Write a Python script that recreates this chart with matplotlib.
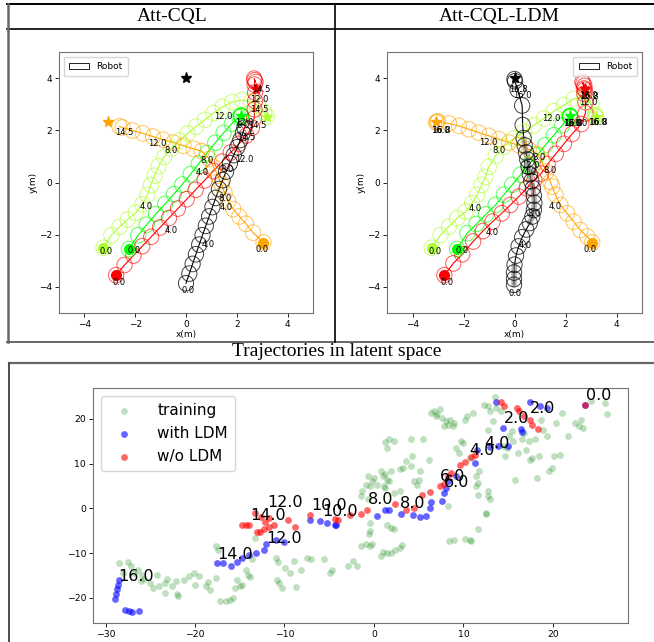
import matplotlib
matplotlib.use("Agg")
import matplotlib.pyplot as plt
import numpy as np
from matplotlib.lines import Line2D
from matplotlib.patches import Circle, Patch

W, H = 654, 642

# ---------------- top panels: robot / human trajectories ----------------
AGENT_COLORS = {"yg": "greenyellow", "green": "lime", "red": "red",
                "orange": "orange", "robot": "black"}
AGENT_ORDER = ["yg", "green", "red", "orange", "robot"]

starts = {"yg": (-3.25, -2.5), "green": (-2.25, -2.55), "red": (-2.75, -3.55),
          "orange": (3.05, -2.3)}
goals = {"yg": (3.2, 2.52), "green": (2.17, 2.55), "red": (2.75, 3.6),
         "orange": (-3.08, 2.31), "robot": (0.0, 4.0)}

# Att-CQL
cql_yg = [(-3.25, -2.5), (-2.94, -2.02), (-2.62, -1.70), (-2.30, -1.42), (-1.98, -1.16),
          (-1.72, -0.84), (-1.52, -0.48), (-1.38, -0.10), (-1.24, 0.26), (-1.08, 0.62),
          (-0.86, 0.98), (-0.58, 1.30), (-0.26, 1.60), (0.06, 1.88), (0.40, 2.14),
          (0.74, 2.40), (1.08, 2.66), (1.44, 2.90), (1.82, 3.08), (2.20, 3.16),
          (2.56, 3.10), (2.86, 2.92), (3.08, 2.70), (3.18, 2.52)]
cql_green = [(-2.25, -2.55), (-1.88, -2.02), (-1.55, -1.62), (-1.18, -1.20), (-0.82, -0.82),
             (-0.48, -0.45), (-0.15, -0.08), (0.18, 0.32), (0.50, 0.72), (0.82, 1.12),
             (1.15, 1.52), (1.48, 1.90), (1.80, 2.25), (2.10, 2.50), (2.17, 2.55),
             (2.18, 2.56), (2.16, 2.54), (2.17, 2.55)]
cql_red = [(-2.75, -3.55), (-2.42, -3.16), (-2.07, -2.80), (-1.72, -2.44), (-1.37, -2.08),
           (-1.02, -1.72), (-0.67, -1.36), (-0.32, -1.00), (0.03, -0.64), (0.38, -0.28),
           (0.73, 0.08), (1.08, 0.44), (1.42, 0.80), (1.76, 1.15), (2.08, 1.48),
           (2.38, 1.80), (2.60, 2.10), (2.68, 2.45), (2.70, 2.80), (2.72, 3.12),
           (2.72, 3.45), (2.70, 3.75), (2.70, 3.92), (2.74, 3.85), (2.68, 3.98)]
cql_orange = [(3.05, -2.3), (2.64, -1.92), (2.36, -1.58), (2.10, -1.30), (1.86, -1.02),
              (1.66, -0.72), (1.52, -0.40), (1.40, -0.08), (1.26, 0.26), (1.10, 0.58),
              (0.92, 0.90), (0.62, 1.20), (0.30, 1.29), (-0.10, 1.41), (-0.50, 1.53),
              (-0.90, 1.64), (-1.30, 1.76), (-1.70, 1.88), (-2.10, 1.99), (-2.50, 2.11),
              (-2.62, 2.15)]
cql_robot = [(0.00, -3.86), (0.13, -3.49), (0.26, -3.12), (0.39, -2.75), (0.52, -2.38),
             (0.65, -2.02), (0.78, -1.66), (0.91, -1.30), (1.04, -0.94), (1.17, -0.59),
             (1.30, -0.25), (1.44, 0.09), (1.58, 0.42), (1.73, 0.74), (1.88, 1.05),
             (2.02, 1.35), (2.14, 1.63), (2.24, 1.90), (2.30, 2.10)]
cql_labels = [("0.0", -3.13, -2.66), ("4.0", -1.56, -0.92), ("8.0", -0.58, 1.21),
              ("12.0", 1.48, 2.54), ("14.5", 2.87, 2.80),
              ("0.0", -2.05, -2.62), ("4.0", 0.63, 0.38), ("8.0", 2.25, 2.19),
              ("12.0", 2.31, 2.30), ("14.5", 2.81, 2.17),
              ("0.0", -2.65, -3.83), ("4.0", -0.58, -1.84), ("8.0", 1.63, 0.51),
              ("12.0", 2.90, 3.19), ("14.5", 2.97, 3.57),
              ("0.0", 2.99, -2.56), ("4.0", 1.58, -0.95), ("8.0", 0.83, 0.85),
              ("12.0", -1.14, 1.49), ("14.5", -2.44, 1.90),
              ("0.0", 0.10, -4.15), ("4.0", 0.87, -2.39), ("8.0", 1.52, -0.60),
              ("12.0", 2.28, 0.87), ("14.5", 2.38, 1.71)]

# Att-CQL-LDM
ldm_yg = [(-3.25, -2.5), (-2.90, -2.01), (-2.57, -1.69), (-2.25, -1.37), (-1.92, -1.11),
          (-1.66, -0.79), (-1.46, -0.47), (-1.29, -0.09), (-1.14, 0.21), (-1.01, 0.60),
          (-0.74, 1.02), (-0.42, 1.37), (-0.03, 1.68), (0.37, 1.94), (0.76, 2.19),
          (1.15, 2.45), (1.54, 2.73), (1.93, 2.96), (2.32, 3.20), (2.72, 3.26),
          (3.02, 2.98), (3.17, 2.60), (3.20, 2.52), (3.15, 2.55)]
ldm_green = [(-2.25, -2.55), (-1.85, -1.94), (-1.49, -1.59), (-1.12, -1.22), (-0.74, -0.86),
             (-0.42, -0.47), (-0.09, -0.09), (0.24, 0.30), (0.56, 0.68), (0.89, 1.04),
             (1.21, 1.43), (1.54, 1.81), (1.87, 2.19), (2.17, 2.51), (2.18, 2.55),
             (2.16, 2.53), (2.19, 2.52), (2.17, 2.55)]
ldm_red = [(-2.75, -3.55), (-2.40, -3.10), (-2.05, -2.75), (-1.62, -2.26), (-1.24, -1.86),
           (-0.86, -1.50), (-0.50, -1.18), (-0.16, -0.86), (0.17, -0.54), (0.48, -0.22),
           (0.78, 0.10), (1.04, 0.34), (1.30, 0.70), (1.62, 1.10), (1.94, 1.48),
           (2.26, 1.86), (2.62, 2.24), (2.78, 2.65), (2.78, 3.08), (2.74, 3.40),
           (2.72, 3.60), (2.70, 3.80), (2.74, 3.70), (2.66, 3.85), (2.76, 3.55)]
ldm_orange = [(3.05, -2.3), (2.85, -2.07), (2.58, -1.82), (2.32, -1.50), (2.06, -1.18),
              (1.80, -0.86), (1.61, -0.47), (1.48, -0.16), (1.41, 0.02), (1.25, 0.41),
              (1.08, 0.79), (0.89, 1.11), (0.56, 1.27), (0.17, 1.43), (-0.22, 1.53),
              (-0.61, 1.66), (-1.01, 1.79), (-1.40, 1.91), (-1.79, 2.04), (-2.18, 2.17),
              (-2.57, 2.26), (-3.03, 2.32), (-3.08, 2.30), (-3.00, 2.34)]
ldm_robot = [(-0.02, -3.92), (-0.02, -3.70), (-0.02, -3.45), (0.00, -3.15), (0.06, -2.80),
             (0.16, -2.45), (0.30, -2.10), (0.46, -1.80), (0.60, -1.55), (0.70, -1.30),
             (0.76, -1.05), (0.78, -0.78), (0.76, -0.50), (0.72, -0.22), (0.66, 0.05),
             (0.60, 0.32), (0.55, 0.60), (0.50, 0.88), (0.45, 1.15), (0.40, 1.42),
             (0.36, 1.70), (0.32, 2.20), (0.30, 2.95), (0.12, 3.55), (0.02, 3.88),
             (0.00, 3.96)]
ldm_robot_slow = [(0, 4), (8, 21)]  # index ranges drawn as grey band
ldm_labels = [("0.0", -3.13, -2.66), ("4.0", -1.53, -0.99), ("8.0", -0.61, 1.21),
              ("12.0", 1.45, 2.47), ("16.0", 3.26, 2.30), ("16.8", 3.28, 2.30),
              ("0.0", -2.05, -2.62), ("4.0", 0.63, 0.38), ("8.0", 2.61, 2.26),
              ("12.0", 2.26, 2.26), ("16.0", 2.28, 2.26), ("16.8", 2.30, 2.26),
              ("0.0", -2.64, -3.83), ("4.0", -0.87, -1.91), ("8.0", 1.41, 0.47),
              ("12.0", 2.91, 3.06), ("16.0", 2.91, 3.32), ("16.8", 2.93, 3.30),
              ("0.0", 2.98, -2.56), ("4.0", 1.58, -0.92), ("8.0", 0.95, 0.94),
              ("12.0", -1.03, 1.53), ("16.0", -2.90, 2.00), ("16.8", -2.88, 2.00),
              ("0.0", 0.01, -4.24), ("4.0", 0.43, -2.42), ("8.0", 0.76, -1.18),
              ("12.0", 0.63, 0.64), ("16.0", 0.30, 3.32), ("16.8", 0.14, 3.56)]

# ---------------- bottom panel: latent space ----------------
train_pts = [
    (-28.5, -12.3), (-27.5, -12.0), (-27.2, -12.9), (-28.1, -14.4), (-26.8, -14.4),
    (-26.4, -13.7), (-25.9, -14.8), (-25.7, -15.7), (-25.0, -16.6), (-24.7, -17.8),
    (-24.2, -14.8), (-24.0, -17.4), (-23.4, -16.6), (-23.1, -15.7), (-22.6, -17.4),
    (-22.1, -16.3), (-21.9, -19.6), (-22.0, -19.2), (-21.2, -15.9), (-20.7, -15.2),
    (-20.1, -14.4), (-20.0, -17.0), (-19.5, -15.2), (-18.8, -17.4), (-18.6, -16.5),
    (-18.3, -18.3), (-17.6, -15.5), (-17.6, -8.5), (-17.4, -9.3), (-17.2, -20.7),
    (-16.5, -20.6), (-16.1, -20.4), (-15.8, -20.0), (-15.5, -17.8), (-15.3, -16.0),
    (-15.0, -17.4), (-14.7, -17.0), (-14.3, -13.7), (-14.1, -14.8), (-13.9, -15.3),
    (-13.6, -11.4), (-13.3, -6.6), (-23.3, -19.0), (-26.0, -16.2),
    (-11.0, -11.1), (-10.8, -15.9), (-10.6, -16.6), (-10.3, -17.8), (-10.7, -11.9),
    (-9.9, -13.3), (-9.4, -14.4), (-8.9, -11.8), (-8.7, -17.5), (-8.2, -13.7),
    (-7.5, -11.1), (-7.0, -11.4), (-5.6, -11.4), (-4.9, -14.4), (-4.7, -13.7),
    (-2.9, -12.9), (-2.3, -11.8), (-1.9, -12.9), (-1.4, -8.5), (-0.9, -7.9),
    (-0.4, -8.5), (-0.2, -7.9), (0.8, -10.7), (1.0, -9.8), (1.5, -9.9),
    (1.9, -9.9), (2.4, -9.2), (2.9, -8.8), (3.1, -8.1),
    (-1.5, 2.7), (-1.3, 3.8), (-0.9, 5.3), (-0.7, 7.2), (-0.4, 5.0), (-0.2, 6.1),
    (0.0, 6.8), (0.3, 5.3), (0.8, 8.3), (1.0, 7.2), (1.1, 5.0), (1.2, 7.6),
    (1.5, 6.4), (1.7, 6.1), (1.9, 8.3), (1.2, 14.8), (1.5, 13.5), (1.7, 15.4),
    (2.2, 15.0), (2.9, 8.7), (3.3, 9.0), (3.6, 10.5), (4.1, 9.4), (4.1, 15.4),
    (4.3, 11.7), (4.5, 6.1), (4.8, 5.3), (5.0, 6.4), (5.2, 8.3), (5.5, 15.4),
    (6.2, 10.9), (6.4, 21.3), (6.7, 21.7), (6.9, 20.6), (7.1, 21.0), (7.4, 22.1),
    (7.6, 20.2), (7.8, 18.4), (8.1, 19.5), (8.3, 18.7), (8.5, 19.8), (8.8, 18.4),
    (9.0, 19.1), (9.2, 13.5), (9.5, 12.4), (9.7, 15.0), (10.0, 14.6), (10.2, 19.8),
    (10.4, 20.6), (10.7, 11.3), (11.1, 21.3), (11.4, 7.2), (11.6, 5.7), (11.8, 8.3),
    (11.6, 3.1), (12.5, -1.0), (12.3, 23.2), (12.8, 22.8), (12.8, 17.6), (13.0, 21.7),
    (13.3, 19.5), (13.5, 24.8), (13.7, 22.4), (14.2, 21.7), (14.4, 13.9), (14.7, 11.7),
    (14.9, 13.5), (15.1, 16.1), (15.4, 17.2), (15.6, 15.0), (15.8, 6.4), (16.1, 12.4),
    (16.6, 15.4), (16.8, 16.9), (17.0, 13.1), (17.3, 15.0), (17.5, 10.9), (17.7, 11.3),
    (18.0, 15.4), (18.2, 6.8), (18.4, 11.7), (18.7, 19.8), (18.9, 17.6), (19.4, 16.1),
    (19.6, 8.3), (19.9, 9.0), (20.1, 11.7), (20.3, 19.1), (20.8, 12.0), (21.0, 21.3),
    (21.7, 16.1), (22.5, 19.1), (22.9, 18.4), (23.2, 19.8), (23.4, 18.0), (24.3, 23.9),
    (25.8, 23.6), (26.0, 21.0),
    (8.3, 0.5), (8.4, -7.3), (9.0, -7.0), (10.2, -6.8), (10.7, -7.1), (10.9, -7.3),
    (11.6, -4.5), (12.5, -1.2), (12.7, 2.7), (12.8, 3.8), (13.0, 2.0), (11.4, 5.0),
    (-0.4, -3.2), (-0.4, -5.1), (-0.5, -5.8), (1.5, -3.6), (1.9, -4.4), (2.2, -4.7),
    (-0.7, 2.0), (1.2, 4.6), (2.2, 3.5), (2.9, 3.8)]
with_ldm_pts = [
    (-28.5, -16.0), (-28.6, -17.0), (-28.7, -18.0), (-28.8, -19.1), (-28.9, -20.2),
    (-27.8, -22.7), (-27.4, -23.0), (-27.0, -23.2), (-26.3, -23.0), (-17.5, -12.3),
    (-16.9, -12.3), (-16.0, -12.8), (-15.3, -12.0), (-14.8, -11.1), (-14.0, -10.3),
    (-13.2, -9.9), (-12.3, -9.2), (-12.1, -7.9), (-11.0, -7.0), (-10.1, -7.5),
    (-7.2, -2.5), (-6.0, -2.9), (-5.2, -3.2), (-4.4, -3.6), (-4.2, -3.8),
    (0.4, -1.7), (1.2, -0.4), (1.7, -0.4), (3.0, -1.2), (4.4, -1.5), (5.2, -2.0),
    (5.8, -1.7), (6.3, 0.1), (6.4, 1.4), (7.6, 1.6), (7.8, 3.5), (8.1, 4.6),
    (8.3, 6.1), (9.2, 7.2), (11.3, 10.2), (11.5, 13.1), (13.0, 13.7), (13.9, 13.9),
    (15.0, 14.0), (13.7, 23.7), (14.4, 18.0), (16.4, 17.8), (16.6, 17.0), (17.5, 23.7),
    (18.6, 22.9), (19.4, 22.4), (23.6, 23.2)]
wo_ldm_pts = [
    (-14.8, -3.8), (-14.3, -3.8), (-14.0, -3.8), (-13.1, -5.3), (-12.7, -5.3),
    (-12.3, -4.6), (-13.3, -1.0), (-12.6, -1.9), (-12.2, -3.1), (-11.7, -2.1),
    (-11.2, -3.6), (-11.7, -4.1), (-9.6, -2.5), (-8.8, -4.1), (-7.2, -1.4),
    (-4.4, -2.3), (-4.0, -2.5), (-2.7, -1.4), (-1.4, -1.2), (-0.8, -0.3), (2.4, 1.0),
    (3.6, -0.3), (4.5, 0.1), (5.4, 3.1), (6.3, 3.6), (7.4, 5.0), (7.8, 5.5),
    (8.3, 7.2), (8.6, 7.9), (9.6, 9.8), (10.2, 10.3), (10.9, 11.5), (11.3, 12.0),
    (14.2, 23.7), (14.5, 22.8), (16.0, 22.5), (16.2, 21.7), (16.8, 20.7), (17.4, 19.8),
    (17.7, 18.7), (18.3, 17.8), (23.6, 23.2)]
latent_labels = [("0.0", 23.7, 24.2), ("2.0", 17.4, 21.3), ("2.0", 14.5, 19.1),
                 ("4.0", 12.3, 13.5), ("4.0", 10.7, 12.0), ("6.0", 7.4, 6.1),
                 ("6.0", 7.8, 4.8), ("8.0", -0.7, 1.0), ("8.0", 2.9, 0.1),
                 ("10.0", -7.0, -0.3), ("10.0", -5.8, -1.7), ("12.0", -11.9, 0.3),
                 ("14.0", -13.8, -2.7), ("12.0", -12.0, -7.7), ("14.0", -17.5, -11.2),
                 ("16.0", -28.6, -16.3)]


def fig_rect(x0, y0, x1, y1):
    # pixel box (top-left origin) -> figure fraction rect
    return [x0 / W, 1 - y1 / H, (x1 - x0) / W, (y1 - y0) / H]


def draw_crowd(ax, trajs, labels, legend_loc, slow=None):
    for name in AGENT_ORDER:
        pts = np.array(trajs[name])
        c = AGENT_COLORS[name]
        ax.plot(pts[:, 0], pts[:, 1], color=c, lw=0.8, zorder=2)
        for x, y in pts:
            ax.add_patch(Circle((x, y), 0.3, fill=False, ec=c, lw=0.7,
                                alpha=0.65 if name != "robot" else 0.75, zorder=3))
        if name in starts:
            ax.plot(*starts[name], "o", color=c, ms=7, zorder=4)
        ax.plot(*goals[name], "*", color=c, ms=8, zorder=4)
    if slow:
        pts = np.array(trajs["robot"])
        for i0, i1 in slow:
            ax.plot(pts[i0:i1, 0], pts[i0:i1, 1], color="grey", lw=4,
                    alpha=0.6, solid_capstyle="round", zorder=2.5)
    for s, x, y in labels:
        ax.text(x, y, s, fontsize=6, ha="center", va="center", zorder=5)
    ax.set_xlim(-5, 5)
    ax.set_ylim(-5, 5)
    ax.set_xticks([-4, -2, 0, 2, 4])
    ax.set_yticks([-4, -2, 0, 2, 4])
    ax.tick_params(labelsize=6.5, length=3, width=0.6, pad=2)
    ax.set_xlabel("x(m)", fontsize=6.5, labelpad=1)
    ax.set_ylabel("y(m)", fontsize=6.5, labelpad=1)
    for sp in ax.spines.values():
        sp.set_color("0.45")
        sp.set_linewidth(0.8)
    ax.legend(handles=[Patch(facecolor="white", edgecolor="black", lw=0.6, label="Robot")],
              loc=legend_loc, fontsize=6.5, handlelength=2.2, borderpad=0.6)


fig = plt.figure(figsize=(W / 100, H / 100), dpi=100)

ax1 = fig.add_axes(fig_rect(59, 52, 313, 313))
draw_crowd(ax1, {"yg": cql_yg, "green": cql_green, "red": cql_red,
                 "orange": cql_orange, "robot": cql_robot}, cql_labels, "upper left")

ax2 = fig.add_axes(fig_rect(387, 52, 642, 313))
draw_crowd(ax2, {"yg": ldm_yg, "green": ldm_green, "red": ldm_red,
                 "orange": ldm_orange, "robot": ldm_robot}, ldm_labels, "upper right",
           slow=ldm_robot_slow)

ax3 = fig.add_axes(fig_rect(93, 388, 628, 623))
tp = np.array(train_pts)
bp = np.array(with_ldm_pts)
rp = np.array(wo_ldm_pts)
ax3.scatter(tp[:, 0], tp[:, 1], s=24, color="green", alpha=0.25, lw=0, label="training")
ax3.scatter(bp[:, 0], bp[:, 1], s=24, color="blue", alpha=0.6, lw=0, label="with LDM")
ax3.scatter(rp[:, 0], rp[:, 1], s=24, color="red", alpha=0.6, lw=0, label="w/o LDM")
for s, x, y in latent_labels:
    ax3.text(x, y, s, fontsize=11.5)
ax3.set_xlim(-31.4, 28.4)
ax3.set_ylim(-25.6, 26.9)
ax3.set_xticks([-30, -20, -10, 0, 10, 20])
ax3.set_yticks([-20, -10, 0, 10, 20])
ax3.tick_params(labelsize=6.7, length=3, width=0.6, pad=2)
for sp in ax3.spines.values():
    sp.set_color("0.45")
    sp.set_linewidth(0.8)
ax3.legend(loc="upper left", fontsize=11, handletextpad=1.2, borderpad=0.5)

# table-like frame around the panels
frame = [((7, 4), (654, 4), "black", 1.4), ((7, 29), (654, 29), "black", 1.2),
         ((7, 342), (654, 342), "0.4", 1.4), ((8, 4), (8, 342), "0.4", 1.8),
         ((335, 4), (335, 342), "black", 1.2), ((9, 363), (654, 363), "0.4", 1.6),
         ((9, 363), (9, 642), "0.3", 1.4)]
for (xa, ya), (xb, yb), col, lw in frame:
    fig.add_artist(Line2D([xa / W, xb / W], [1 - ya / H, 1 - yb / H],
                          transform=fig.transFigure, color=col, lw=lw))

fig.text(172 / W, 1 - 16 / H, "Att-CQL", family="Liberation Serif", fontsize=14,
         ha="center", va="center")
fig.text(499 / W, 1 - 16 / H, "Att-CQL-LDM", family="Liberation Serif", fontsize=14,
         ha="center", va="center")
fig.text(337 / W, 1 - 352 / H, "Trajectories in latent space", family="Liberation Serif",
         fontsize=14, ha="center", va="center")

fig.savefig("out.png", dpi=100)
